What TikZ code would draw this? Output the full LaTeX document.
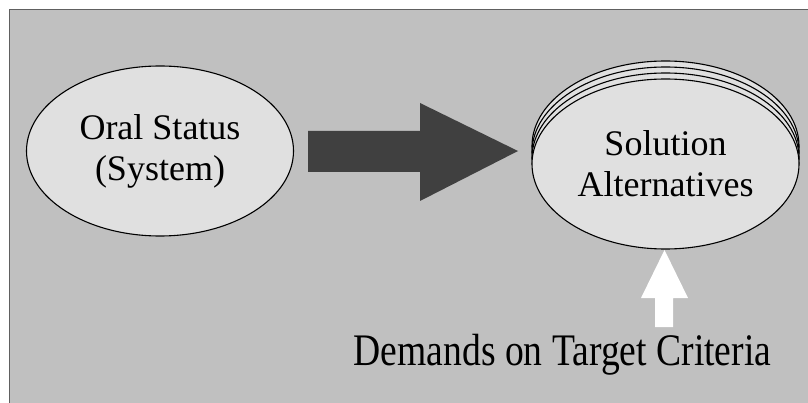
\documentclass[tikz,border=0pt]{standalone}
\usepackage{fontspec}
\usepackage{graphicx}
\setmainfont{Liberation Serif}
\usetikzlibrary{shapes.geometric}
\definecolor{panelgray}{HTML}{C0C0C0}
\definecolor{bubblefill}{HTML}{E0E0E0}
\definecolor{darkarrow}{HTML}{404040}
\definecolor{frameline}{HTML}{606060}
\begin{document}
\begin{tikzpicture}[x=1pt,y=-1pt,
  bubble/.style={ellipse,draw=black,line width=1.1pt,fill=bubblefill,
    minimum width=267pt,minimum height=170pt,inner sep=0pt,align=center,
    font=\fontsize{36}{41}\selectfont},
  blockarrow/.style={draw=none},
  caption/.style={anchor=base,inner sep=0pt,font=\fontsize{37.6}{42}\selectfont}]
\useasboundingbox (0,0) rectangle (808,403);
% panel
\draw[frameline,fill=panelgray,line width=1.5pt] (9.5,9.5) rectangle (812,407);

% system ellipse
\node[bubble] (status) at (160,151) {Oral Status\\(System)};

% stacked alternatives, back to front
\node[bubble] (alt3) at (665.5,146) {};
\node[bubble] (alt2) at (665.5,152) {};
\node[bubble] (alt1) at (665.5,158) {};
\node[bubble] (alt) at (665.5,164) {Solution\\Alternatives};

% big dark arrow from status to alternatives
\coordinate (tail) at (308,151.5);
\coordinate (tip) at (518,151);
\fill[darkarrow,blockarrow] (tail) ++(0,-20.5) -- (420,131) -- (420,103) -- (tip)
  -- (420,201) -- (420,172) -- (308,172) -- cycle;

% caption and white arrow pointing at the alternatives
\node[caption] (demands) at (562.5,365) {\scalebox{1}[1.2]{Demands on Target Criteria}};
\coordinate (upbase) at (664,327);
\coordinate (uptip) at (664.5,250);
\fill[white,blockarrow] (upbase) ++(-9,0) -- (655,298) -- (641,298) -- (uptip)
  -- (688,298) -- (673,298) -- (673,327) -- cycle;
\end{tikzpicture}
\end{document}
